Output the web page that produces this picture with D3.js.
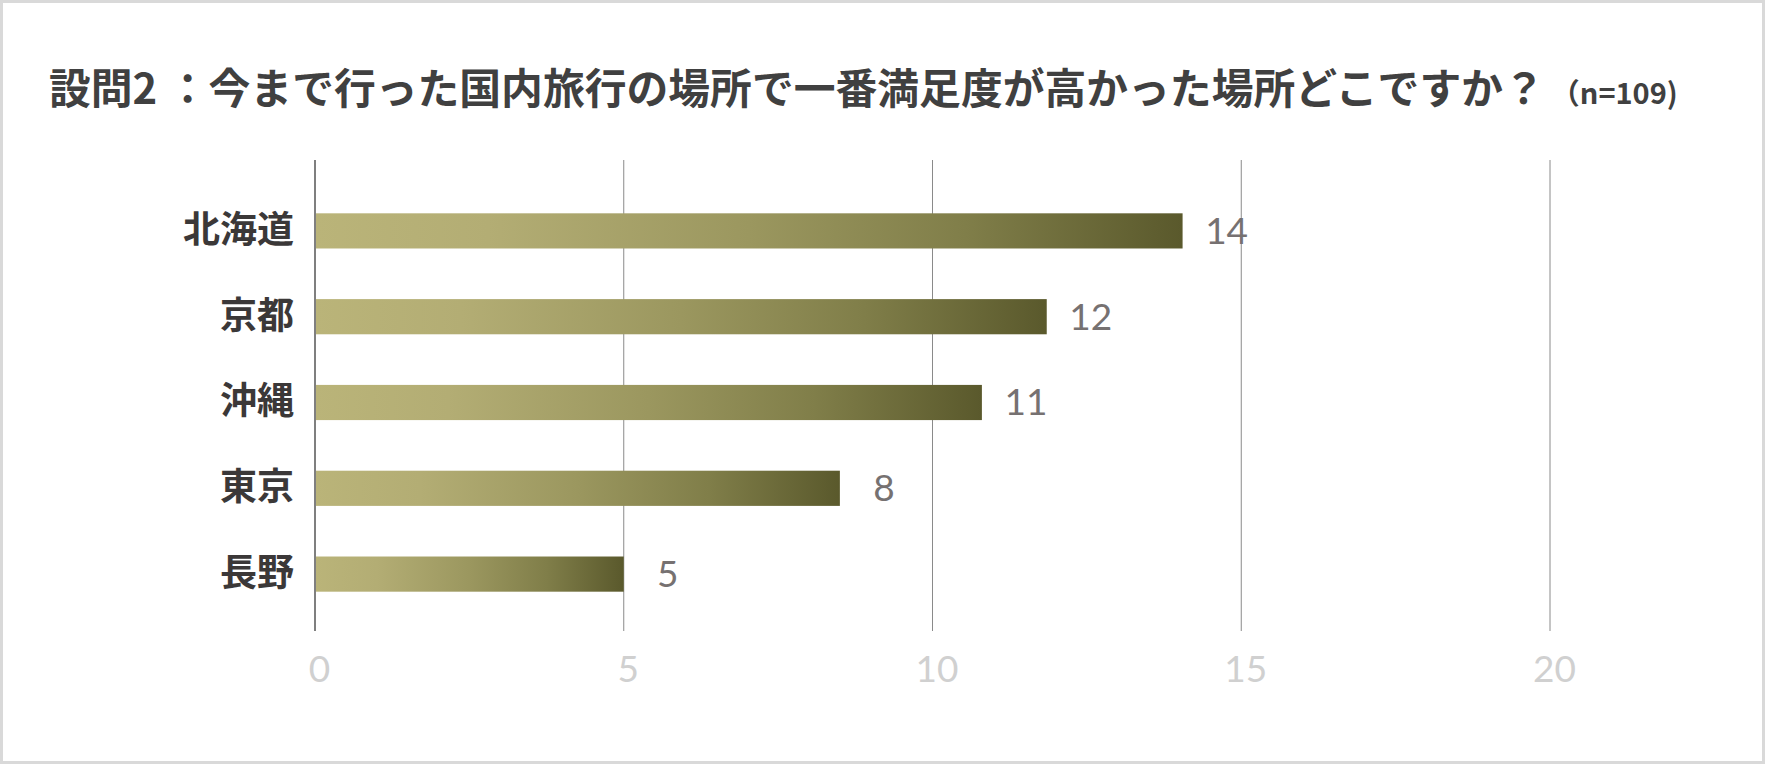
<!DOCTYPE html>
<html>
<head>
<meta charset="utf-8">
<script src="https://cdn.jsdelivr.net/npm/d3@7"></script>
<style>
  body { margin: 0; background: #fff; }
  svg { display: block; }
</style>
</head>
<body>
<div id="chart"></div>
<script>
var WIDTH = 1765;
var HEIGHT = 764;

var categories = ["北海道", "京都", "沖縄", "東京", "長野"];
var values = [14.05, 11.85, 10.8, 8.5, 5];
var valueLabels = ["14", "12", "11", "8", "5"];
var xTicks = [0, 5, 10, 15, 20];
var titleText = "設問2 ：今まで行った国内旅行の場所で一番満足度が高かった場所どこですか？";
var titleNote = "（n=109)";

var data = categories.map(function(c, i) {
  return {name: c, value: values[i], label: valueLabels[i]};
});

var svg = d3.select("#chart").append("svg")
  .attr("width", WIDTH)
  .attr("height", HEIGHT);

svg.append("rect")
  .attr("x", 1.5).attr("y", 1.5)
  .attr("width", WIDTH - 3).attr("height", HEIGHT - 3)
  .attr("fill", "#fff")
  .attr("stroke", "#d9d9d9")
  .attr("stroke-width", 3);

// gradient applied per bar (bounding box units)
var grad = svg.append("defs").append("linearGradient")
  .attr("id", "barGrad")
  .attr("x1", "0%").attr("x2", "100%").attr("y1", "0%").attr("y2", "0%");
[[0, "#bab479"], [0.2, "#b3ad74"], [0.5, "#9b975f"], [0.75, "#807e49"], [1, "#5a592c"]]
  .forEach(function(s) {
    grad.append("stop").attr("offset", s[0]).attr("stop-color", s[1]);
  });

var x = d3.scaleLinear().domain([0, 20]).range([315, 1550]);
var y = d3.scaleBand().domain(categories)
  .range([188, 617])
  .paddingInner(0.59)
  .paddingOuter(0.295);

var plotTop = 160, plotBottom = 631;

// title
var title = svg.append("text")
  .attr("x", 49)
  .attr("y", 104)
  .style("font-family", "'Noto Sans CJK JP', 'Noto Sans', sans-serif")
  .style("font-weight", "bold")
  .style("fill", "#404040");
title.append("tspan").style("font-size", "41.8px").text(titleText);
title.append("tspan").attr("dx", 6).style("font-size", "29px").text(titleNote);

// grid lines
svg.append("g")
  .selectAll("line")
  .data(xTicks.filter(function(d) { return d > 0; }))
  .enter().append("line")
  .attr("x1", function(d) { return x(d); })
  .attr("x2", function(d) { return x(d); })
  .attr("y1", plotTop)
  .attr("y2", plotBottom)
  .attr("stroke", "#8a8a8a")
  .attr("stroke-width", 1);

// bars
svg.append("g")
  .selectAll("rect")
  .data(data)
  .enter().append("rect")
  .attr("x", x(0))
  .attr("y", function(d) { return y(d.name); })
  .attr("width", function(d) { return x(d.value) - x(0); })
  .attr("height", y.bandwidth())
  .attr("fill", "url(#barGrad)");

// vertical axis line at 0
svg.append("line")
  .attr("x1", x(0)).attr("x2", x(0))
  .attr("y1", plotTop).attr("y2", plotBottom)
  .attr("stroke", "#7f7f7f")
  .attr("stroke-width", 2);

// category labels
svg.append("g")
  .attr("transform", "translate(" + (x(0) - 21) + ",0)")
  .call(d3.axisLeft(y).tickSize(0).tickPadding(0))
  .call(function(g) { g.select(".domain").remove(); })
  .selectAll("text")
  .style("font-family", "'Noto Sans CJK JP', sans-serif")
  .style("font-weight", "bold")
  .style("font-size", "37px")
  .style("fill", "#3b3838");

// value labels
svg.append("g")
  .selectAll("text")
  .data(data)
  .enter().append("text")
  .attr("x", function(d) { return x(d.value) + 44; })
  .attr("y", function(d) { return y(d.name) + y.bandwidth() / 2; })
  .attr("dy", "0.35em")
  .attr("text-anchor", "middle")
  .style("font-family", "Lato, 'Open Sans', sans-serif")
  .style("font-size", "37px")
  .style("fill", "#767171")
  .text(function(d) { return d.label; });

// x tick labels
svg.append("g")
  .attr("transform", "translate(4," + 656 + ")")
  .call(d3.axisBottom(x).tickValues(xTicks).tickSize(0).tickPadding(0))
  .call(function(g) { g.select(".domain").remove(); })
  .selectAll("text")
  .attr("dy", "0.71em")
  .style("font-family", "Lato, 'Open Sans', sans-serif")
  .style("font-size", "37px")
  .style("fill", "#d0d0d0");
</script>
</body>
</html>
